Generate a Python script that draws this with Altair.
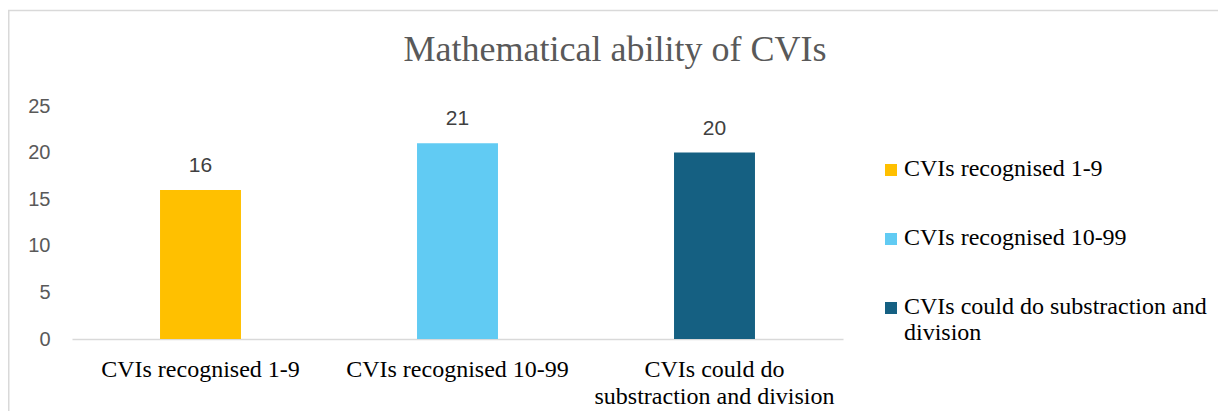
import altair as alt
import pandas as pd

title_text = "Mathematical ability of CVIs"
categories = [
    "CVIs recognised 1-9",
    "CVIs recognised 10-99",
    "CVIs could do substraction and division",
]
values = [16, 21, 20]
colors = ["#FFC000", "#61CBF3", "#156082"]
y_ticks = [0, 5, 10, 15, 20, 25]

df = pd.DataFrame({"category": categories, "value": values})

long_cat = categories[2]
x_label_expr = (
    f"datum.label == '{long_cat}' ? ['CVIs could do', 'substraction and division'] : datum.label"
)
legend_label_expr = (
    f"datum.label == '{long_cat}' ? ['CVIs could do substraction and', 'division'] : datum.label"
)

x_enc = alt.X(
    "category:N",
    sort=categories,
    title=None,
    scale=alt.Scale(paddingInner=0.685, paddingOuter=0.3425),
    axis=alt.Axis(
        labelAngle=0,
        labelFont="Liberation Serif",
        labelFontSize=24,
        labelColor="#000000",
        labelPadding=18,
        labelLineHeight=27,
        labelLimit=400,
        ticks=False,
        domainColor="#d9d9d9",
        domainWidth=1.5,
        grid=False,
        labelExpr=x_label_expr,
    ),
)
y_enc = alt.Y(
    "value:Q",
    title=None,
    scale=alt.Scale(domain=[0, 25], nice=False),
    axis=alt.Axis(
        values=y_ticks,
        grid=False,
        domain=False,
        ticks=False,
        labelFlush=False,
        labelFont="Liberation Sans",
        labelFontSize=20,
        labelColor="#595959",
        labelPadding=22,
    ),
)

bars = alt.Chart(df).mark_bar().encode(
    x=x_enc,
    y=y_enc,
    color=alt.Color(
        "category:N",
        sort=categories,
        scale=alt.Scale(domain=categories, range=colors),
        legend=alt.Legend(
            title=None,
            orient="none",
            legendX=807,
            legendY=58,
            symbolType="M-1,-2H1V0H-1Z",
            symbolSize=144,
            symbolStrokeWidth=0,
            labelFont="Liberation Serif",
            labelFontSize=24,
            labelColor="#000000",
            labelBaseline="alphabetic",
            labelOffset=1,
            labelLimit=400,
            rowPadding=45,
            padding=0,
            labelExpr=legend_label_expr,
        ),
    ),
)

labels = alt.Chart(df).mark_text(
    dy=-24, baseline="middle", font="Liberation Sans", fontSize=21, color="#404040"
).encode(
    x=alt.X("category:N", sort=categories),
    y=alt.Y("value:Q"),
    text="value:Q",
)

title = alt.Chart(alt.Data(values=[{"t": title_text}])).mark_text(
    font="Liberation Serif", fontSize=36, color="#595959", baseline="alphabetic", align="center"
).encode(x=alt.value(543), y=alt.value(-45), text="t:N")

border = alt.Chart(alt.Data(values=[{"b": 1}])).mark_rect(
    fillOpacity=0, stroke="#d9d9d9", strokeWidth=1.5
).encode(x=alt.value(-63.25), x2=alt.value(1400), y=alt.value(-95.5), y2=alt.value(400))

chart = (
    alt.layer(border, bars, labels, title)
    .properties(
        width=771,
        height=233,
        padding={"left": 64, "top": 98, "right": 375, "bottom": 72},
        autosize=alt.AutoSizeParams(type="none"),
    )
    .configure(
        view=alt.ViewConfig(stroke=None),
        style={"guide-label": {"lineHeight": 26}},
    )
)

chart.save("out.html", embed_options={"renderer": "svg", "actions": False})
